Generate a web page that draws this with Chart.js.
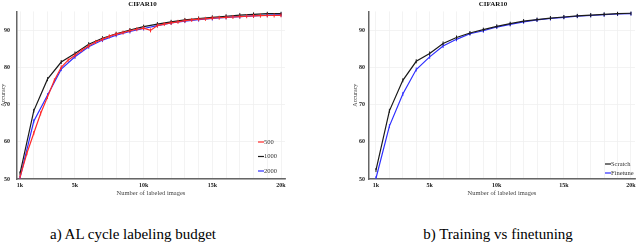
<!DOCTYPE html>
<html>
<head>
<meta charset="utf-8">
<script src="https://cdn.jsdelivr.net/npm/chart.js@4.4.1/dist/chart.umd.min.js"></script>
<style>
  body { margin: 0; background: #fff; width: 640px; height: 243px; position: relative; overflow: hidden; }
  .box { position: absolute; top: 0; height: 200px; }
  .cap { position: absolute; top: 226px; font-family: "Times New Roman", "Liberation Serif", "DejaVu Serif", serif; font-size: 15px; color: #000; white-space: nowrap; transform: translateX(-50%); }
</style>
</head>
<body>
<div class="box" style="left:0;width:292px"><canvas id="chartA"></canvas></div>
<div class="box" style="left:350px;width:290px"><canvas id="chartB"></canvas></div>
<div class="cap" style="left:133px">a) AL cycle labeling budget</div>
<div class="cap" style="left:498px">b) Training vs finetuning</div>
<script>
// x grid positions (labeled images) and the labeled ticks
const gridTicks = [1000, 2000, 3000, 4000, 5000, 6000, 7000, 8000, 9000, 10000,
    11000, 12000, 13000, 14000, 15000, 16000, 17000, 18000, 19000, 20000];
const labelTicks = [1000, 5000, 10000, 15000, 20000];
const yTicks = [50, 60, 70, 80, 90];

// a) budget 500 / 1000 / 2000
const xs500 = [1000, 1500, 2000, 2500, 3000, 3500, 4000, 4500, 5000, 5500, 6000, 6500, 7000, 7500,
    8000, 8500, 9000, 9500, 10000, 10500, 11000, 11500, 12000, 12500, 13000, 13500, 14000, 14500,
    15000, 15500, 16000, 16500, 17000, 17500, 18000, 18500, 19000, 19500, 20000];
const acc500 = [50.5, 56.9, 62.3, 67.6, 72.0, 76.5, 80.0, 81.9, 83.2, 84.6, 85.7, 86.8, 87.5, 88.3,
    88.9, 89.3, 89.8, 90.2, 90.5, 89.9, 91.2, 91.6, 91.9, 92.2, 92.5, 92.7, 92.9, 93.0,
    93.2, 93.3, 93.4, 93.5, 93.6, 93.7, 93.8, 93.85, 93.9, 93.9, 93.95];
const xs1000 = [1000, 2000, 3000, 4000, 5000, 6000, 7000, 8000, 9000, 10000,
    11000, 12000, 13000, 14000, 15000, 16000, 17000, 18000, 19000, 20000];
const acc1000 = [51.5, 68.3, 76.8, 81.4, 83.7, 86.2, 87.8, 89.0, 90.0, 90.9,
    91.6, 92.2, 92.7, 93.1, 93.4, 93.7, 94.0, 94.2, 94.4, 94.4];
const xs2000 = [1000, 2000, 3000, 4000, 5000, 6000, 7000, 8000, 9000, 10000,
    11000, 12000, 13000, 14000, 15000, 16000, 17000, 18000, 19000, 20000];
const acc2000 = [50.3, 65.5, 72.5, 79.5, 82.8, 85.5, 87.3, 88.6, 89.6, 90.4,
    91.2, 91.9, 92.4, 92.8, 93.1, 93.4, 93.6, 93.8, 94.0, 94.1];

// b) scratch vs finetune
const xsB = [1000, 2000, 3000, 4000, 5000, 6000, 7000, 8000, 9000, 10000,
    11000, 12000, 13000, 14000, 15000, 16000, 17000, 18000, 19000, 20000];
const accScratch = [52.4, 68.3, 76.5, 81.6, 83.7, 86.4, 88.0, 89.2, 90.1, 91.0,
    91.7, 92.4, 92.8, 93.2, 93.5, 93.8, 94.0, 94.2, 94.4, 94.5];
const accFinetune = [50.2, 64.2, 72.8, 79.4, 82.8, 85.7, 87.5, 89.0, 89.8, 90.8,
    91.5, 92.2, 92.7, 93.1, 93.4, 93.7, 93.9, 94.1, 94.3, 94.4];

const SERIF = '"Times New Roman", "Liberation Serif", "DejaVu Serif", serif';

function toPoints(xs, ys) {
    return xs.map((x, i) => ({ x: x, y: ys[i] }));
}

function series(label, xs, ys, color) {
    return {
        label: label,
        data: toPoints(xs, ys),
        borderColor: color,
        backgroundColor: color,
        borderWidth: 1.2,
        pointStyle: 'line',
        rotation: 90,
        pointRadius: 2,
        pointBorderWidth: 1,
        tension: 0
    };
}

// small legend drawn inside the plot, lower right
const innerLegend = {
    id: 'innerLegend',
    afterDatasetsDraw(chart, args, opts) {
        const ctx = chart.ctx;
        const area = chart.chartArea;
        ctx.save();
        ctx.font = '6.5px ' + SERIF;
        ctx.textBaseline = 'middle';
        chart.data.datasets.forEach((ds, i) => {
            const x = area.right - opts.dx;
            const y = area.bottom - opts.dy + i * opts.gap;
            ctx.strokeStyle = ds.borderColor;
            ctx.lineWidth = 1.2;
            ctx.beginPath();
            ctx.moveTo(x, y);
            ctx.lineTo(x + 6, y);
            ctx.stroke();
            ctx.fillStyle = '#333';
            ctx.fillText(ds.label, x + 6, y);
        });
        ctx.restore();
    }
};

function makeChart(id, datasets, xMin, xMax, yPad, legendOpts) {
    return new Chart(document.getElementById(id), {
        type: 'line',
        data: { datasets: datasets },
        plugins: [innerLegend],
        options: {
            responsive: true,
            maintainAspectRatio: false,
            animation: false,
            layout: { padding: { left: 0, right: legendOpts.padRight, top: 0, bottom: 0 } },
            plugins: {
                legend: { display: false },
                tooltip: { enabled: false },
                title: {
                    display: true,
                    text: 'CIFAR10',
                    color: '#111',
                    font: { family: SERIF, size: 7, weight: 'bold' },
                    padding: { top: 0, bottom: 3 }
                },
                innerLegend: legendOpts
            },
            scales: {
                x: {
                    type: 'linear',
                    min: xMin,
                    max: xMax,
                    afterBuildTicks: s => { s.ticks = gridTicks.map(v => ({ value: v })); },
                    afterFit: s => { s.height = 21; },
                    grid: { color: '#f0f0f0', lineWidth: 0.8, drawTicks: false },
                    border: { color: '#666', width: 1.5 },
                    ticks: {
                        autoSkip: false,
                        maxRotation: 0,
                        padding: 3,
                        color: '#222',
                        font: { family: SERIF, size: 6, weight: 'bold' },
                        callback: v => labelTicks.includes(v) ? (v / 1000) + 'k' : ''
                    },
                    title: {
                        display: true,
                        text: 'Number of labeled images',
                        color: '#444',
                        font: { family: SERIF, size: 6.5 },
                        padding: { top: 0, bottom: 3 }
                    }
                },
                y: {
                    min: 50,
                    max: 95,
                    afterBuildTicks: s => { s.ticks = yTicks.map(v => ({ value: v })); },
                    afterFit: s => { s.width = yPad.width; },
                    grid: { color: '#f0f0f0', lineWidth: 0.8, drawTicks: false },
                    border: { color: '#666', width: 1.5 },
                    ticks: {
                        padding: yPad.tick,
                        color: '#222',
                        font: { family: SERIF, size: 6, weight: 'bold' }
                    },
                    title: {
                        display: true,
                        text: 'Accuracy',
                        color: '#444',
                        font: { family: SERIF, size: 6, lineHeight: 1 },
                        padding: { top: yPad.title, bottom: 0 }
                    }
                }
            }
        }
    });
}

makeChart('chartA', [
    series('500', xs500, acc500, '#ff2a2a'),
    series('1000', xs1000, acc1000, '#1a1a1a'),
    series('2000', xs2000, acc2000, '#2f2fff')
], 780, 20290, { width: 17, tick: 7, title: 0 }, { dx: 27, dy: 37, gap: 14.5, padRight: 7 });

makeChart('chartB', [
    series('Scratch', xsB, accScratch, '#1a1a1a'),
    series('Finetune', xsB, accFinetune, '#2f2fff')
], 480, 20300, { width: 19, tick: 4, title: 2 }, { dx: 30, dy: 15, gap: 9, padRight: 4 });
</script>
</body>
</html>
